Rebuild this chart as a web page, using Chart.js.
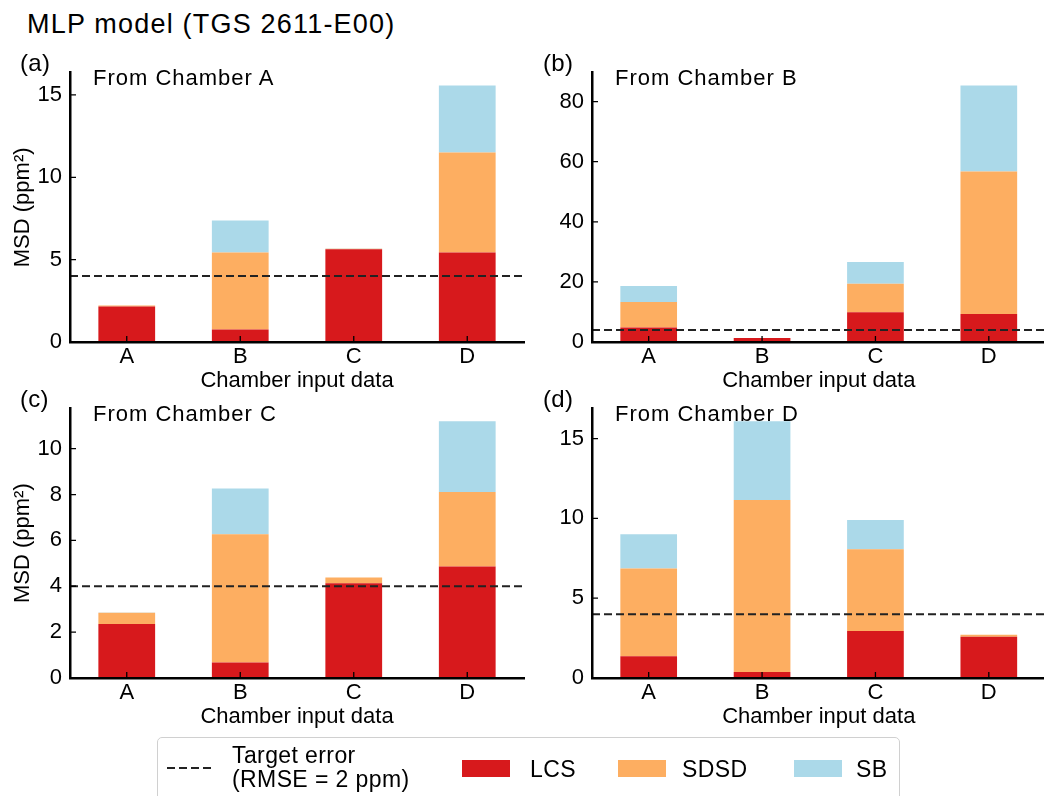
<!DOCTYPE html>
<html><head><meta charset="utf-8">
<script src="https://cdn.jsdelivr.net/npm/chart.js@4.4.1/dist/chart.umd.min.js"></script>
<style>
html,body{margin:0;padding:0;background:#fff;}
body{width:1044px;height:796px;overflow:hidden;position:relative;font-family:"Liberation Sans",Arial,Helvetica,sans-serif;color:#000;}
.t{position:absolute;white-space:nowrap;line-height:1;}
canvas{position:absolute;}
#legend{position:absolute;left:157px;top:737px;width:743px;height:80px;border:1px solid #d0d0d0;border-radius:5px;box-sizing:border-box;}
#legend .lt{position:absolute;white-space:nowrap;font-size:23px;line-height:24px;letter-spacing:0.4px;}
#legend .patch{position:absolute;width:48px;height:17px;}
</style></head><body>
<script>
// ---------- data ----------
const FIG_TITLE = 'MLP model (TGS 2611-E00)';
const categories = ['A', 'B', 'C', 'D'];
const seriesNames = ['LCS', 'SDSD', 'SB'];
const seriesColors = ['#d7191c', '#fdae61', '#abd9e9'];
const targetLabel = ['Target error', '(RMSE = 2 ppm)'];
const targetMSD = 4;
const panelLabels = ['(a)', '(b)', '(c)', '(d)'];
const panelTitles = ['From Chamber A', 'From Chamber B', 'From Chamber C', 'From Chamber D'];
const yAxisTitle = 'MSD (ppm²)';
const xAxisTitle = 'Chamber input data';
const yTickSteps = [5, 20, 2, 5];

// From Chamber A
const lcsA  = [2.15, 0.76, 5.63, 5.43];
const sdsdA = [0.07, 4.67, 0.03, 6.07];
const sbA   = [0.00, 1.95, 0.02, 4.07];
// From Chamber B
const lcsB  = [4.80, 1.30, 9.90, 9.35];
const sdsdB = [8.55, 0.05, 9.45, 47.40];
const sbB   = [5.25, 0.00, 7.25, 28.60];
// From Chamber C
const lcsC  = [2.36, 0.68, 4.13, 4.86];
const sdsdC = [0.48, 5.59, 0.25, 3.25];
const sbC   = [0.02, 1.99, 0.00, 3.09];
// From Chamber D
const lcsD  = [1.37, 0.38, 2.94, 2.59];
const sdsdD = [5.49, 10.77, 5.12, 0.12];
const sbD   = [2.14, 4.94, 1.84, 0.00];

const panelData = [
  [lcsA, sdsdA, sbA],
  [lcsB, sdsdB, sbB],
  [lcsC, sdsdC, sbC],
  [lcsD, sdsdD, sbD]
];

// ---------- layout ----------
const FONT = '"Liberation Sans", Arial, Helvetica, sans-serif';
Chart.defaults.font.family = FONT;
const layout = [
  {left: 0,   top: 50,  w: 530, yW: 70, padR: 6,   padT: 22.7, yTitle: true,  lab: [20, 51],  sub: [93, 67]},
  {left: 523, top: 50,  w: 523, yW: 69, padR: 0.5, padT: 22.7, yTitle: false, lab: [543, 51], sub: [615, 67]},
  {left: 0,   top: 386, w: 530, yW: 70, padR: 6,   padT: 22.3, yTitle: true,  lab: [20, 387], sub: [93, 403]},
  {left: 523, top: 386, w: 523, yW: 69, padR: 0.5, padT: 22.3, yTitle: false, lab: [543, 387], sub: [615, 403]}
];
const CANVAS_H = 352;

function addText(txt, x, y, size, spacing) {
  const d = document.createElement('div');
  d.className = 't';
  d.textContent = txt;
  d.style.left = x + 'px'; d.style.top = y + 'px';
  d.style.fontSize = size + 'px';
  d.style.letterSpacing = spacing + 'px';
  document.body.appendChild(d);
  return d;
}

const inwardTicks = {
  id: 'inwardTicks',
  afterDraw(chart) {
    const {ctx, chartArea: a, scales: {x, y}} = chart;
    ctx.save();
    ctx.strokeStyle = '#000'; ctx.lineWidth = 1.3;
    ctx.beginPath();
    x.ticks.forEach((t, i) => { const px = x.getPixelForTick(i); ctx.moveTo(px, a.bottom); ctx.lineTo(px, a.bottom - 6); });
    y.ticks.forEach(t => { const py = y.getPixelForValue(t.value); ctx.moveTo(a.left, py); ctx.lineTo(a.left + 6, py); });
    ctx.stroke();
    ctx.restore();
  }
};
const targetLine = {
  id: 'targetLine',
  afterDatasetsDraw(chart) {
    const {ctx, chartArea: a, scales: {y}} = chart;
    const py = y.getPixelForValue(targetMSD);
    ctx.save();
    ctx.strokeStyle = '#222'; ctx.lineWidth = 2; ctx.setLineDash([8, 4]);
    ctx.beginPath(); ctx.moveTo(a.left, py); ctx.lineTo(a.right, py); ctx.stroke();
    ctx.restore();
  }
};

function makeChart(i) {
  const L = layout[i];
  const data = panelData[i];
  const cv = document.createElement('canvas');
  cv.width = L.w; cv.height = CANVAS_H;
  cv.style.left = L.left + 'px'; cv.style.top = L.top + 'px';
  cv.style.width = L.w + 'px'; cv.style.height = CANVAS_H + 'px';
  document.body.appendChild(cv);
  const totals = categories.map((_, k) => data.reduce((s, arr) => s + arr[k], 0));
  const ymax = Math.max(...totals) * 1.05;
  const step = yTickSteps[i];
  new Chart(cv, {
    type: 'bar',
    data: {
      labels: categories,
      datasets: seriesNames.map((n, s) => ({
        label: n, data: data[s], backgroundColor: seriesColors[s],
        borderWidth: 0, barPercentage: 0.5, categoryPercentage: 1.0
      }))
    },
    options: {
      responsive: false, animation: false, devicePixelRatio: 1,
      layout: {padding: {left: 0, right: L.padR, top: L.padT, bottom: 0}},
      plugins: {legend: {display: false}, tooltip: {enabled: false}},
      scales: {
        x: {
          stacked: true, offset: true,
          grid: {display: false, drawTicks: false},
          border: {display: true, color: '#000', width: 2.5, z: 1},
          ticks: {color: '#000', font: {size: 22}, padding: 2, maxRotation: 0, autoSkip: false},
          title: {display: true, text: xAxisTitle, color: '#000', font: {size: 22}, padding: {top: 0, bottom: 8.3}},
          afterFit(s) { s.height = 60; }
        },
        y: {
          stacked: true, min: 0, max: ymax,
          grid: {display: false, drawTicks: false},
          border: {display: true, color: '#000', width: 2.5, z: 1},
          ticks: {stepSize: step, includeBounds: false, color: '#000', font: {size: 22}, padding: 8},
          title: {display: L.yTitle, text: yAxisTitle, color: '#000', font: {size: 22}, padding: {top: 9.3, bottom: 0}},
          afterBuildTicks(s) { s.ticks = s.ticks.filter(t => Math.abs(t.value / step - Math.round(t.value / step)) < 1e-6); },
          afterFit(s) { s.width = L.yW; }
        }
      }
    },
    plugins: [targetLine, inwardTicks]
  });
  addText(panelLabels[i], L.lab[0], L.lab[1], 24, 0.3);
  addText(panelTitles[i], L.sub[0], L.sub[1], 22, 1);
}

addText(FIG_TITLE, 27, 11, 27, 1.2);
for (let i = 0; i < 4; i++) makeChart(i);

// ---------- legend ----------
const lg = document.createElement('div');
lg.id = 'legend';
document.body.appendChild(lg);
const svgNS = 'http://www.w3.org/2000/svg';
const svg = document.createElementNS(svgNS, 'svg');
svg.setAttribute('width', '50'); svg.setAttribute('height', '6');
svg.style.position = 'absolute'; svg.style.left = '9px'; svg.style.top = '27px';
const ln = document.createElementNS(svgNS, 'line');
ln.setAttribute('x1', '0'); ln.setAttribute('y1', '3'); ln.setAttribute('x2', '46'); ln.setAttribute('y2', '3');
ln.setAttribute('stroke', '#222'); ln.setAttribute('stroke-width', '2'); ln.setAttribute('stroke-dasharray', '8 4');
svg.appendChild(ln); lg.appendChild(svg);
const tl = document.createElement('div');
tl.className = 'lt'; tl.style.left = '74px'; tl.style.top = '5px';
tl.innerHTML = targetLabel.join('<br>');
lg.appendChild(tl);
const legendPos = [[304, 372], [460, 524], [636, 698]];
seriesNames.forEach((n, s) => {
  const p = document.createElement('div');
  p.className = 'patch'; p.style.left = legendPos[s][0] + 'px'; p.style.top = '22px';
  p.style.background = seriesColors[s];
  lg.appendChild(p);
  const t = document.createElement('div');
  t.className = 'lt'; t.style.left = legendPos[s][1] + 'px'; t.style.top = '18.5px';
  t.textContent = n;
  lg.appendChild(t);
});
</script>
</body></html>
